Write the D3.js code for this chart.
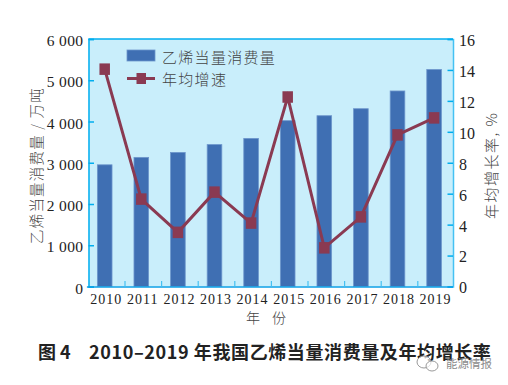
<!DOCTYPE html>
<html>
<head>
<meta charset="utf-8">
<script src="https://cdn.jsdelivr.net/npm/d3@7"></script>
<style>
  html, body { margin: 0; padding: 0; background: #fff; }
  text { font-family: "Noto Sans CJK SC", sans-serif; }
  .num { font-family: "Liberation Serif", serif; fill: #222; }
</style>
</head>
<body>
<svg id="chart"></svg>
<script>
let years = ['2010','2011','2012','2013','2014','2015','2016','2017','2018','2019'];
let consumption = [2950, 3130, 3250, 3440, 3590, 4020, 4140, 4310, 4740, 5260];
let growth = [14.05, 5.65, 3.5, 6.1, 4.1, 12.25, 2.5, 4.5, 9.8, 10.9];
let leftTicks = [0, 1000, 2000, 3000, 4000, 5000, 6000];
let rightTicks = [0, 2, 4, 6, 8, 10, 12, 14, 16];

let width = 508;
let height = 385;
let plotL = 88.5, plotR = 453, plotT = 39, plotB = 286.5;
let spine = '#00aeef';

let svg = d3.select('#chart')
  .attr('width', width)
  .attr('height', height)
  .style('display', 'block');

let xax = d3.scaleBand().domain(years).range([86.4, 452.4]).paddingInner(0.6).paddingOuter(0.3);
let yl = d3.scaleLinear().domain([0, 6000]).range([plotB, plotT]);
let yr = d3.scaleLinear().domain([0, 16]).range([plotB, plotT]);

svg.append('rect')
  .attr('x', plotL).attr('y', plotT)
  .attr('width', plotR - plotL).attr('height', plotB - plotT)
  .attr('fill', '#c9eefb');

svg.append('g').selectAll('rect')
  .data(years)
  .join('rect')
    .attr('x', d => xax(d))
    .attr('y', (d, i) => yl(consumption[i]))
    .attr('width', xax.bandwidth())
    .attr('height', (d, i) => plotB - yl(consumption[i]))
    .attr('fill', '#3f6fb3')
    .attr('stroke', '#6d96cc')
    .attr('stroke-width', 0.8);

// spines + ticks
let fmt = d => d >= 1000 ? Math.floor(d / 1000) + ' 000' : d;

let axl = svg.append('g')
  .attr('transform', `translate(${plotL},0)`)
  .call(d3.axisLeft(yl).tickValues(leftTicks).tickSize(-5.5).tickPadding(5).tickFormat(fmt));
axl.selectAll('text').attr('x', -5).attr('dy', '0.42em').attr('class', 'num').style('font-size', '15.5px').style('letter-spacing', '0.4px');

let axr = svg.append('g')
  .attr('transform', `translate(${plotR},0)`)
  .call(d3.axisRight(yr).tickValues(rightTicks).tickSize(-5.5).tickFormat(d => d));
axr.selectAll('text').attr('x', 6).attr('dy', '0.4em').attr('class', 'num').style('font-size', '16px');

for (let a of [axl, axr]) {
  a.selectAll('.domain').attr('stroke', spine).attr('stroke-width', 1.5);
  a.selectAll('.tick line').attr('stroke', spine).attr('stroke-width', 1.5);
}
axr.selectAll('.domain').attr('stroke', '#45c1f3');

svg.append('line')
  .attr('x1', plotL).attr('x2', plotR).attr('y1', plotT).attr('y2', plotT)
  .attr('stroke', spine).attr('stroke-width', 1.5);

let axb = svg.append('g')
  .attr('transform', `translate(0,${plotB})`)
  .call(d3.axisBottom(xax).tickSize(0).tickPadding(8));
axb.selectAll('.domain').attr('stroke', '#0a9fe6').attr('stroke-width', 1.5);
axb.selectAll('text').attr('class', 'num').attr('dx', 1.5).style('font-size', '14px').style('letter-spacing', '1px');

svg.append('g').selectAll('line')
  .data(years.slice(1))
  .join('line')
    .attr('x1', d => xax(d) - xax.step() * xax.paddingInner() / 2 + 2)
    .attr('x2', d => xax(d) - xax.step() * xax.paddingInner() / 2 + 2)
    .attr('y1', plotB).attr('y2', plotB - 5.5)
    .attr('stroke', '#45c1f3').attr('stroke-width', 1.2);

// growth line
let cx = d => xax(d) + xax.bandwidth() / 2;
let line = d3.line().x(d => cx(d)).y((d, i) => yr(growth[i]));

svg.append('path')
  .attr('d', line(years))
  .attr('fill', 'none')
  .attr('stroke', '#8a3a52')
  .attr('stroke-width', 3);

svg.append('g').selectAll('rect')
  .data(years)
  .join('rect')
    .attr('x', d => cx(d) - 5.25)
    .attr('y', (d, i) => yr(growth[i]) - 5.75)
    .attr('width', 10.5).attr('height', 11.5)
    .attr('fill', '#8a3a52');

// legend
svg.append('rect').attr('x', 127).attr('y', 50).attr('width', 28).attr('height', 11)
  .attr('fill', '#3f6fb3').attr('stroke', '#6d96cc').attr('stroke-width', 0.8);
svg.append('line').attr('x1', 127).attr('x2', 155).attr('y1', 78.5).attr('y2', 78.5)
  .attr('stroke', '#8a3a52').attr('stroke-width', 3);
svg.append('rect').attr('x', 136.5).attr('y', 73).attr('width', 9.5).attr('height', 11).attr('fill', '#8a3a52');

let cjk = (x, y, s, size, extra) => svg.append('text')
  .attr('x', x).attr('y', y).text(s)
  .style('font-size', size + 'px').attr('fill', '#444')
  .style('font-weight', 300)
  .call(extra || (() => {}));

cjk(162, 62.5, '乙烯当量消费量', 15, t => t.style('letter-spacing', '1.3px'));
cjk(162, 85, '年均增速', 15, t => t.style('letter-spacing', '1.3px'));

cjk(0, 0, '乙烯当量消费量 / 万吨', 14.5, t => t
  .attr('transform', 'translate(42,244) rotate(-90)')
  .style('letter-spacing', '1.2px'));

cjk(0, 0, '年均增长率, %', 15, t => t
  .attr('transform', 'translate(497,219) rotate(-90)')
  .style('letter-spacing', '1.5px'));

cjk(246, 323, '年', 14);
cjk(272, 323, '份', 14);

svg.append('text')
  .attr('x', 38).attr('y', 358.5)
  .attr('fill', '#222')
  .style('font-size', '18px')
  .style('font-weight', 700)
  .text('图 4');
svg.append('text')
  .attr('x', 89).attr('y', 358.5)
  .attr('fill', '#222')
  .style('font-size', '18px')
  .style('font-weight', 700)
  .style('letter-spacing', '0.6px')
  .text('2010–2019 年我国乙烯当量消费量及年均增长率');

// watermark
let wm = svg.append('g').attr('fill', 'none').attr('stroke', '#9a9a9a').attr('stroke-width', 1);
wm.append('ellipse').attr('cx', 424).attr('cy', 362).attr('rx', 7).attr('ry', 6).attr('fill', 'rgba(255,255,255,0.7)');
wm.append('ellipse').attr('cx', 432).attr('cy', 366).attr('rx', 6).attr('ry', 5).attr('fill', 'rgba(255,255,255,0.7)');
svg.append('text')
  .attr('x', 446).attr('y', 368)
  .attr('fill', '#8c8c8c')
  .style('font-size', '11.5px')
  .text('能源情报');
</script>
</body>
</html>
